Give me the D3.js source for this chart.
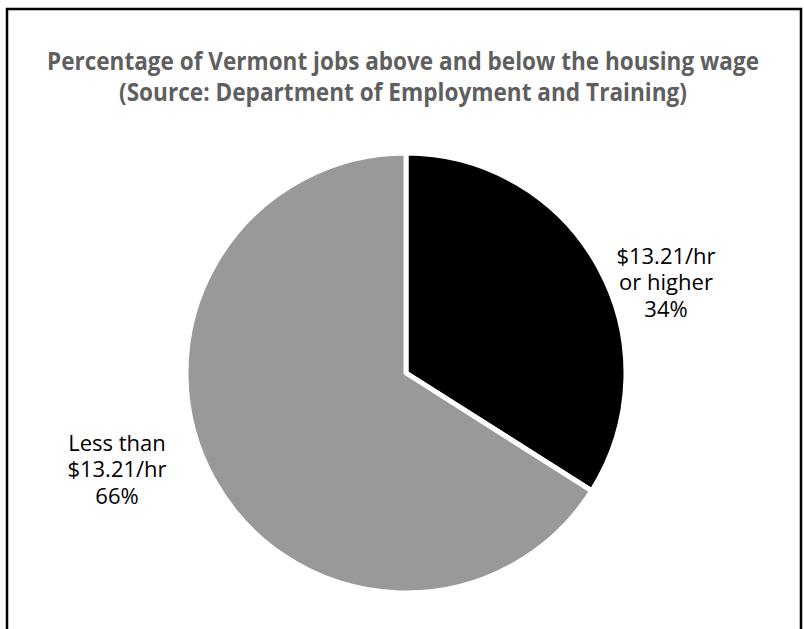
<!DOCTYPE html>
<html>
<head>
<meta charset="utf-8">
<script src="https://cdn.jsdelivr.net/npm/d3@7"></script>
<style>
  body { margin: 0; background: #fff; }
  svg { display: block; }
</style>
</head>
<body>
<div id="chart"></div>
<script>
// chart data
const categories = ["$13.21/hr or higher", "Less than $13.21/hr"];
const percents = [34, 66];
const labelLines = [["$13.21/hr", "or higher", "34%"], ["Less than", "$13.21/hr", "66%"]];
const sliceColors = ["#000000", "#999999"];
const titleLines = ["Percentage of Vermont jobs above and below the housing wage",
                    "(Source: Department of Employment and Training)"];

const width = 804, height = 629;
const cx = 406, cy = 373, radius = 220;

const svg = d3.select("#chart").append("svg")
    .attr("width", width)
    .attr("height", height);

// frame (open at the bottom, like the cropped original)
svg.append("path")
    .attr("d", `M7,${height} V9 H801 V${height}`)
    .attr("fill", "none")
    .attr("stroke", "#000")
    .attr("stroke-width", 2.5);

// title - squeezed to the width of the original condensed face
const titleWidths = [712, 568];
svg.selectAll(".title")
    .data(titleLines)
    .enter().append("text")
    .attr("class", "title")
    .attr("x", 403)
    .attr("y", (d, i) => 70 + i * 31)
    .attr("text-anchor", "middle")
    .attr("textLength", (d, i) => titleWidths[i])
    .attr("lengthAdjust", "spacingAndGlyphs")
    .style("font-family", "'Open Sans', sans-serif")
    .style("font-weight", "bold")
    .style("font-size", "25px")
    .style("fill", "#5f5f5f")
    .text(d => d);

const pie = d3.pie().sort(null).value(d => d);
const arc = d3.arc().innerRadius(0).outerRadius(radius);

const g = svg.append("g").attr("transform", `translate(${cx},${cy})`);

g.selectAll(".slice")
    .data(pie(percents))
    .enter().append("path")
    .attr("class", "slice")
    .attr("d", arc)
    .attr("fill", (d, i) => sliceColors[i])
    .attr("stroke", "#fff")
    .attr("stroke-width", 5)
    .attr("stroke-linejoin", "round");

// labels
const labelPos = [[666, 256], [117, 443]];
labelLines.forEach((lines, i) => {
    const t = svg.append("text")
        .attr("x", labelPos[i][0])
        .attr("y", labelPos[i][1])
        .attr("text-anchor", "middle")
        .style("font-family", "'Open Sans', sans-serif")
        .style("font-size", "22px")
        .style("fill", "#000");
    lines.forEach((line, j) => {
        t.append("tspan")
            .attr("x", labelPos[i][0])
            .attr("dy", j === 0 ? "0.35em" : "1.2em")
            .text(line);
    });
});
</script>
</body>
</html>
